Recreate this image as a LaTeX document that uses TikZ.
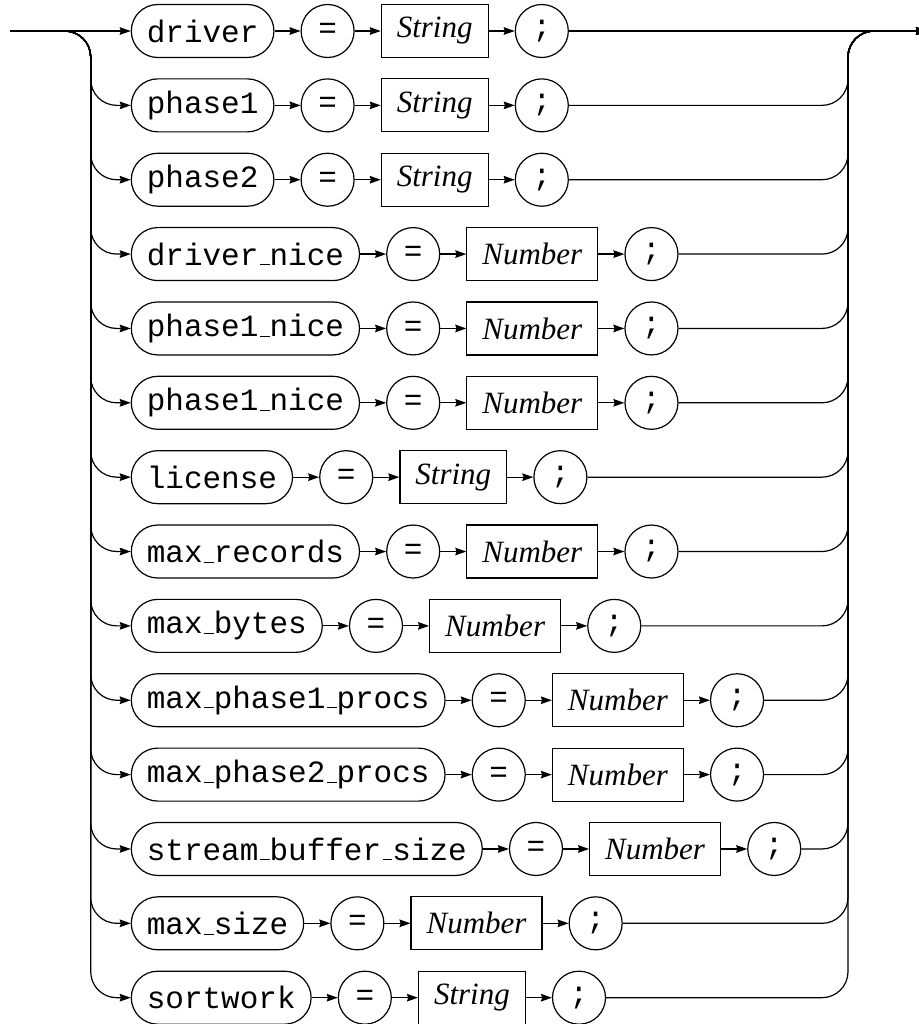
\documentclass[tikz,border=0pt]{standalone}
\usepackage{fontspec}
\setmainfont{Liberation Serif}
\setmonofont{Liberation Mono}
\usetikzlibrary{positioning,arrows.meta}
\newcommand\usc{\leavevmode\kern.06em\vbox{\hrule width.3em}}
\tikzset{
    railfont/.style={font=\fontsize{15.5pt}{18pt}\selectfont#1},
    keyword/.style={draw,rounded corners=13.25pt,minimum height=26.5pt,inner xsep=7.75pt,railfont=\ttfamily},
    token/.style={draw,circle,minimum size=26.5pt,inner sep=0pt,railfont=\ttfamily},
    valtype/.style={draw,minimum height=26.5pt,inner xsep=7.75pt,railfont=\itshape},
}
\begin{document}
\begin{tikzpicture}[x=0.5pt,y=-0.5pt,line width=0.6pt,>={Stealth[length=5.5pt,width=3.8pt,inset=0.6pt]},node distance=13pt]
    \useasboundingbox (0,0) rectangle (919,1024);
    \coordinate (in) at (10,31);
    \coordinate (out) at (927,31);
    \coordinate (lrail) at (90.7,31);
    \coordinate (rrail) at (848,31);
    \foreach \kw/\typ [count=\i] in {driver/String,phase1/String,phase2/String,
        driver\usc nice/Number,phase1\usc nice/Number,phase1\usc nice/Number,
        license/String,max\usc records/Number,max\usc bytes/Number,
        max\usc phase1\usc procs/Number,max\usc phase2\usc procs/Number,
        stream\usc buffer\usc size/Number,max\usc size/Number,sortwork/String}{
        \pgfmathsetmacro\y{31+74.36*(\i-1)}
        \node[keyword,anchor=west](k\i)at(130.7,\y){\kw};
        \node[token,right=of k\i](e\i){=};
        \node[valtype,right=of e\i](v\i){\typ};
        \node[token,right=of v\i](s\i){;};
        \draw[->](k\i)--(e\i);
        \draw[->](e\i)--(v\i);
        \draw[->](v\i)--(s\i);
        \ifnum\i=1
            \draw[->](in)--(k\i);
            \draw[->](s\i)--(out);
        \else
            \draw[->,rounded corners=13pt](in)-|(lrail|-k\i)--(k\i);
            \draw[->,rounded corners=13pt](s\i)-|(rrail)--(out);
        \fi
    }
\end{tikzpicture}
\end{document}
